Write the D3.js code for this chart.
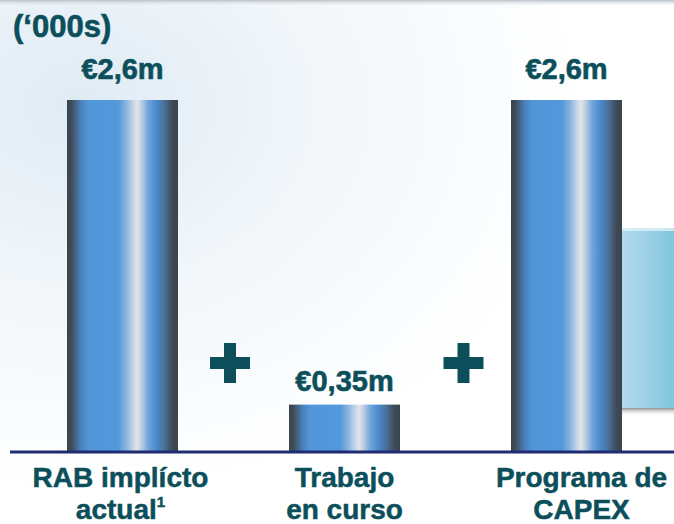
<!DOCTYPE html>
<html><head><meta charset="utf-8">
<script src="https://cdn.jsdelivr.net/npm/d3@7"></script>
<style>html,body{margin:0;padding:0;background:#fff;overflow:hidden}</style>
</head><body>
<svg id="c" width="674" height="524"></svg>
<script>
const categories = ["RAB implícto|actual", "Trabajo|en curso", "Programa de|CAPEX"];
const values = [2.6, 0.35, 2.6];
const valueLabels = ["€2,6m", "€0,35m", "€2,6m"];
const unitLabel = "(‘000s)";
const operators = ["+", "+"];

const svg = d3.select("#c");
const W = 674, H = 524;
const teal = "#0c4f5b";
const font = "'Liberation Sans', Arial, sans-serif";
const defs = svg.append("defs");

// background glow
const bg = defs.append("radialGradient").attr("id","bg").attr("cx","0.12").attr("cy","0.2").attr("r","0.75");
bg.append("stop").attr("offset","0").attr("stop-color","#dfebf4");
bg.append("stop").attr("offset","0.45").attr("stop-color","#f1f6fa");
bg.append("stop").attr("offset","1").attr("stop-color","#ffffff");
svg.append("rect").attr("width",W).attr("height",H).attr("fill","url(#bg)");
const topSh = defs.append("linearGradient").attr("id","topsh").attr("x1",0).attr("y1",0).attr("x2",0).attr("y2",1);
topSh.append("stop").attr("offset",0).attr("stop-color","#b9c2c8");
topSh.append("stop").attr("offset",1).attr("stop-color","#ffffff").attr("stop-opacity",0);
svg.append("rect").attr("width",W).attr("height",7).attr("fill","url(#topsh)");

// right-hand box (partial element)
const boxG = defs.append("linearGradient").attr("id","box").attr("x1",0).attr("y1",0).attr("x2",1).attr("y2",0);
boxG.append("stop").attr("offset",0).attr("stop-color","#c6e5f2");
boxG.append("stop").attr("offset",1).attr("stop-color","#7cc2dd");
const boxSh = defs.append("linearGradient").attr("id","boxsh").attr("x1",0).attr("y1",0).attr("x2",0).attr("y2",1);
boxSh.append("stop").attr("offset",0).attr("stop-color","#6f7478");
boxSh.append("stop").attr("offset",1).attr("stop-color","#ffffff").attr("stop-opacity",0);
svg.append("rect").attr("x",600).attr("y",407).attr("width",80).attr("height",9).attr("fill","url(#boxsh)");
svg.append("rect").attr("x",600).attr("y",228).attr("width",80).attr("height",180).attr("fill","url(#box)");
svg.append("rect").attr("x",600).attr("y",228).attr("width",80).attr("height",3).attr("fill","#e2f1f8").attr("opacity",0.8);

// bar gradient
const bar = defs.append("linearGradient").attr("id","bar").attr("x1",0).attr("y1",0).attr("x2",1).attr("y2",0);
[[0,"#39434c"],[0.04,"#3f4c58"],[0.12,"#4a7fb8"],[0.19,"#5196d9"],[0.46,"#5398da"],[0.53,"#86b2de"],[0.59,"#c0d3e6"],[0.63,"#e1e5ea"],[0.67,"#bccfe3"],[0.73,"#72a6db"],[0.8,"#4b8cd1"],[0.88,"#4a6f96"],[0.95,"#3e4a56"],[1,"#3a444d"]]
  .forEach(([o,c]) => bar.append("stop").attr("offset",o).attr("stop-color",c));

const x = d3.scaleBand().domain(categories).range([-44, 733]).paddingInner(0.5).paddingOuter(0.5);
const y = d3.scaleLinear().domain([0, 2.6]).range([452, 100]);

svg.selectAll("rect.bar").data(values).join("rect").attr("class","bar")
  .attr("x",(d,i)=>x(categories[i])).attr("width",x.bandwidth())
  .attr("y",d=>y(d)).attr("height",d=>y(0)-y(d)).attr("fill","url(#bar)");

// axis baseline
const axis = d3.axisBottom(x).tickSize(0).tickFormat("");
const ag = svg.append("g").attr("transform",`translate(0,${y(0)})`).call(axis);
ag.select(".domain").attr("d","M10,0H674").attr("stroke","#1f2b72").attr("stroke-width",3);

// value labels
svg.selectAll("text.val").data(values).join("text").attr("class","val")
  .attr("x",(d,i)=>x(categories[i])+x.bandwidth()/2)
  .attr("y",(d,i)=>y(d)-(i===1?14:21))
  .attr("text-anchor","middle").attr("font-family",font).attr("font-weight","bold")
  .attr("font-size",29).attr("fill",teal).attr("stroke",teal).attr("stroke-width",0.6)
  .text((d,i)=>valueLabels[i]);

// unit label
svg.append("text").attr("x",13).attr("y",37).attr("font-family",font).attr("font-weight","bold")
  .attr("font-size",31).attr("fill",teal).attr("stroke",teal).attr("stroke-width",0.6).text(unitLabel);

// operators (plus signs) between bars
operators.forEach((op,i)=>{
  const cx = (x(categories[i])+x.bandwidth() + x(categories[i+1]))/2 + (i===0?-3.5:8);
  const cy = 363;
  const g = svg.append("g").attr("fill",teal);
  g.append("rect").attr("x",cx-20).attr("y",cy-6).attr("width",40).attr("height",12);
  g.append("rect").attr("x",cx-6).attr("y",cy-20).attr("width",12).attr("height",40);
});

// category labels
categories.forEach((c,i)=>{
  const lines = c.split("|");
  const cx = x(c)+x.bandwidth()/2 + (i===2?15:(i===0?-2:0));
  const t = svg.append("text").attr("text-anchor","middle").attr("font-family",font)
    .attr("font-weight","bold").attr("font-size",28).attr("fill",teal)
    .attr("stroke",teal).attr("stroke-width",0.5);
  t.append("tspan").attr("x",cx).attr("y",487).text(lines[0]);
  t.append("tspan").attr("x",cx).attr("y",519).text(lines[1]);
  if(i===0){
    t.append("tspan").attr("font-size",15).attr("dy",-12).text("1");
  }
});
</script>
</body></html>
